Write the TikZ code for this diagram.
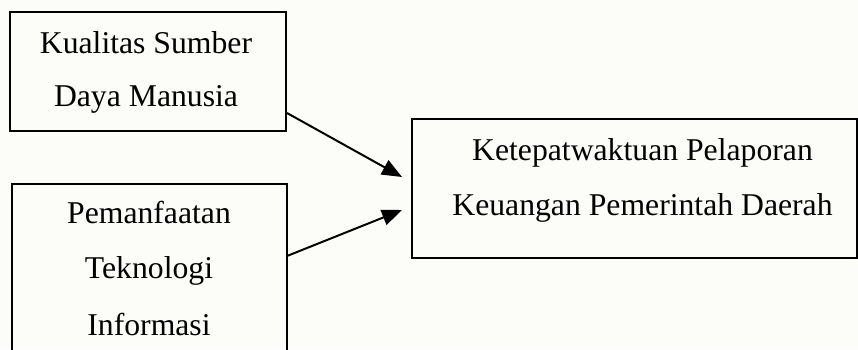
\documentclass[tikz,border=0pt]{standalone}
\usepackage{fontspec}
\setmainfont{Liberation Serif}
\usetikzlibrary{arrows.meta,calc}
\definecolor{paper}{RGB}{252,252,248}
\begin{document}
\begin{tikzpicture}[x=1pt,y=-1pt,
  box/.style={draw=black,line width=1.4pt,rectangle,inner sep=0pt,outer sep=0pt},
  txt/.style={anchor=base,inner sep=0pt,font=\fontsize{31.7}{53}\selectfont},
  conn/.style={line width=2pt,-{Triangle[length=20pt,width=16pt]}}]
\fill[paper] (0,0) rectangle (858,349);
\useasboundingbox (0,0) rectangle (858,349);
\clip (0,0) rectangle (858,349);
\node[box,minimum width=276pt,minimum height=119pt] (b1) at (148,71.5) {};
\node[box,minimum width=275pt,minimum height=186pt] (b2) at (149.5,277) {};
\node[box,minimum width=445pt,minimum height=139pt] (b3) at (634.5,188.5) {};
\node[txt] (t1) at (146,53) {Kualitas Sumber};
\node[txt] (t2) at (146,106) {Daya Manusia};
\node[txt] (t3) at (149,223) {Pemanfaatan};
\node[txt] (t4) at (149,278) {Teknologi};
\node[txt] (t5) at (149,335) {Informasi};
\node[txt] (t6) at (642.5,160) {Ketepatwaktuan Pelaporan};
\node[txt] (t7) at (642.5,215) {Keuangan Pemerintah Daerah};
\coordinate (s1) at ($(b1.south east)+(1,-18)$);
\coordinate (e1) at ($(b3.west)+(-10,-11.5)$);
\coordinate (s2) at ($(b2.north east)+(0,72)$);
\coordinate (e2) at ($(b3.west)+(-10,21.5)$);
\draw[conn] (s1) -- (e1);
\draw[conn] (s2) -- (e2);
\end{tikzpicture}
\end{document}
